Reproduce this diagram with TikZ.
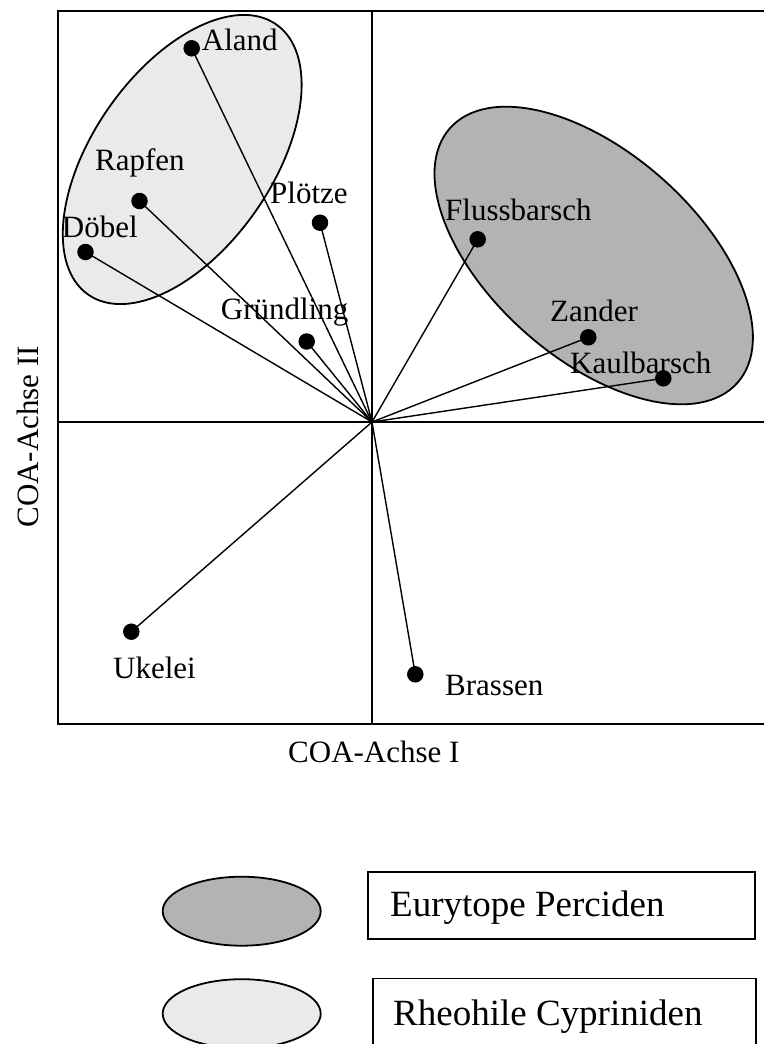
\documentclass[tikz,border=0pt]{standalone}
\usepackage{fontspec}
\setmainfont{Liberation Serif}
\begin{document}
\begin{tikzpicture}[x=1pt,y=-1pt,
  dot/.style={circle,fill=black,draw=none,minimum size=16.5pt,inner sep=0pt},
  lbl/.style={anchor=base west,inner sep=0pt,font=\fontsize{31}{37}\selectfont},
  leg/.style={anchor=base west,inner sep=0pt,font=\fontsize{37}{44}\selectfont},
  conn/.style={line width=1.4pt},
  axis/.style={line width=1.5pt},
  outline/.style={line width=1.8pt}]
\definecolor{darkfill}{HTML}{B3B3B3}
\definecolor{lightfill}{HTML}{EAEAEA}
\useasboundingbox (0,0) rectangle (763,1044);
% cluster ellipses
\draw[outline,fill=lightfill,rotate around={55.2:(182.2,159.5)}] (182.2,159.5) ellipse [x radius=164.6pt, y radius=89.8pt];
\draw[outline,fill=darkfill,rotate around={-41.5:(593.7,255.5)}] (593.7,255.5) ellipse [x radius=192pt, y radius=103pt];
% frame and axes
\draw[line width=2pt] (770,10.7) -- (57.5,10.7) -- (57.5,724) -- (770,724);
\coordinate (O) at (372,422);
\draw[axis] (372,10.7) -- (372,724);
\draw[axis] (57.5,422) -- (770,422);
% dots
\node[dot] (aland) at (191.7,48.3) {};
\node[dot] (rapfen) at (139.5,201) {};
\node[dot] (doebel) at (85.5,252) {};
\node[dot] (ploetze) at (320,222.7) {};
\node[dot] (gruendling) at (306.7,341.5) {};
\node[dot] (fluss) at (477.7,239.3) {};
\node[dot] (zander) at (588.3,337.3) {};
\node[dot] (kaul) at (663.3,378.3) {};
\node[dot] (ukelei) at (131.3,631.7) {};
\node[dot] (brassen) at (415.3,674.3) {};
% connectors
\foreach \n in {aland,rapfen,doebel,ploetze,gruendling,fluss,zander,kaul,ukelei,brassen}
  \draw[conn] (O) -- (\n.center);
% labels
\node[lbl] (taland) at (201.7,50) {Aland};
\node[lbl] (trapfen) at (95,170) {Rapfen};
\node[lbl] (tploetze) at (270,203) {Plötze};
\node[lbl] (tdoebel) at (61.7,237) {Döbel};
\node[lbl] (tgruendling) at (220.7,319.3) {Gründling};
\node[lbl] (tfluss) at (445,220) {Flussbarsch};
\node[lbl] (tzander) at (550,321.7) {Zander};
\node[lbl] (tkaul) at (570,373) {Kaulbarsch};
\node[lbl] (tukelei) at (113,678) {Ukelei};
\node[lbl] (tbrassen) at (445,695) {Brassen};
\node[lbl] (xaxis) at (288,762) {COA-Achse I};
\node[lbl,anchor=base,rotate=90] (yaxis) at (38,436.7) {COA-Achse II};
% legend
\draw[outline,fill=darkfill] (241.7,911.2) ellipse [x radius=79pt, y radius=34.5pt];
\draw[outline,fill=lightfill] (241.7,1013.7) ellipse [x radius=79pt, y radius=34.5pt];
\draw[line width=1.6pt] (368,871.7) rectangle (755,939);
\draw[line width=1.6pt] (372.7,978.3) rectangle (756,1075);
\node[leg] (lperc) at (390,916.7) {Eurytope Perciden};
\node[leg] (lcyp) at (393,1025.7) {Rheohile Cypriniden};
\end{tikzpicture}
\end{document}
